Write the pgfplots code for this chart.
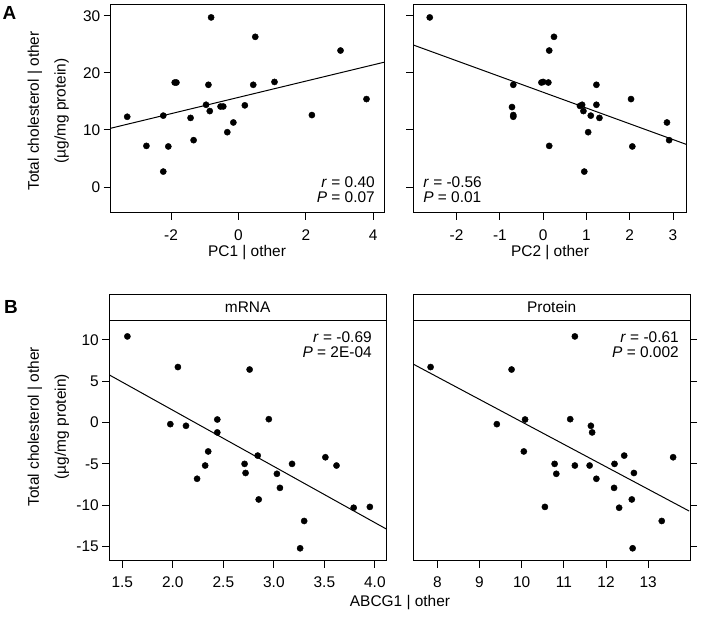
\documentclass[border=0pt]{standalone}
\usepackage{fontspec}
\setmainfont{Liberation Sans}
\usepackage{pgfplots}
\pgfplotsset{compat=1.18}
\newcommand{\fs}{\fontsize{15.5}{18}\selectfont}
\pgfplotsset{
  rstyle/.style={
    scale only axis, clip=false,
    axis line style={line width=0.8bp},
    tick align=outside, major tick length=7bp,
    every tick/.style={line width=0.8bp, black},
    xtick pos=bottom, minor tick num=0,
    tick label style={font=\fs},
  },
  pts/.style={only marks, mark=*, mark size=3.1bp, black, mark options={fill=black}},
  fit/.style={black, line width=1bp, no marks},
}
\tikzset{ann/.style={font=\fs, inner sep=0pt}}
\begin{document}
\begin{tikzpicture}
\path[use as bounding box] (0,0) rectangle (709bp,625bp);
% ---------- A1 ----------
\begin{axis}[rstyle, at={(110.7bp,412.3bp)}, anchor=south west,
  width=273.3bp, height=208.7bp,
  xmin=-3.79, xmax=4.32, ymin=-4.5, ymax=32.05,
  xtick={-2,0,2,4}, xticklabels={-2,0,2,4},
  xticklabel style={inner sep=0pt, yshift=-9.5bp},
  ytick={0,10,20,30}, yticklabels={0,10,20,30}, ytick pos=left]
\addplot[pts] coordinates {
(-3.30,12.3) (-2.73,7.2) (-2.23,12.5) (-2.23,2.7) (-2.08,7.1) (-1.89,18.3)
(-1.84,18.3) (-1.42,12.1) (-1.33,8.2) (-0.96,14.4) (-0.89,17.9) (-0.85,13.3)
(-0.81,29.7) (-0.53,14.1) (-0.45,14.1) (-0.33,9.6) (-0.15,11.3) (0.19,14.3)
(0.44,17.9) (0.50,26.3) (1.07,18.4) (2.18,12.6) (3.03,23.9) (3.80,15.4)};
\addplot[fit] coordinates {(-3.79,10.29) (4.32,21.85)};
\node[ann, anchor=east] at (rel axis cs:0.967,0.147) {\textit{r} = 0.40};
\node[ann, anchor=east] at (rel axis cs:0.967,0.075) {\textit{P} = 0.07};
\end{axis}
% ---------- A2 ----------
\begin{axis}[rstyle, at={(413.3bp,412.3bp)}, anchor=south west,
  width=272.7bp, height=208.7bp,
  xmin=-3.0, xmax=3.30, ymin=-4.5, ymax=32.05,
  xtick={-2,-1,0,1,2,3}, xticklabels={-2,-1,0,1,2,3},
  xticklabel style={inner sep=0pt, yshift=-9.5bp},
  ytick={0,10,20,30}, yticklabels={}, ytick pos=left]
\addplot[pts] coordinates {
(-2.62,29.7) (-0.69,17.9) (-0.72,14.0) (-0.69,12.6) (-0.69,12.3) (-0.04,18.3)
(0.00,18.4) (0.12,18.3) (0.14,23.9) (0.25,26.3) (0.14,7.2) (1.23,17.9)
(0.85,14.2) (0.90,14.4) (0.93,13.3) (1.23,14.4) (1.10,12.5) (1.30,12.1)
(1.04,9.6) (0.95,2.7) (2.03,15.4) (2.06,7.1) (2.86,11.3) (2.91,8.2)};
\addplot[fit] coordinates {(-3.0,24.87) (3.30,7.48)};
\node[ann, anchor=west] at (rel axis cs:0.036,0.147) {\textit{r} = -0.56};
\node[ann, anchor=west] at (rel axis cs:0.036,0.075) {\textit{P} = 0.01};
\end{axis}
% ---------- B1 ----------
\begin{axis}[rstyle, at={(109.3bp,64.3bp)}, anchor=south west,
  width=276.7bp, height=240bp,
  xmin=1.371, xmax=4.11, ymin=-16.7, ymax=12.3,
  xtick={1.5,2,2.5,3,3.5,4}, xticklabels={1.5,2.0,2.5,3.0,3.5,4.0},
  xticklabel style={inner sep=0pt, yshift=-8.5bp},
  ytick={-15,-10,-5,0,5,10}, yticklabels={-15,-10,-5,0,5,10}, ytick pos=left]
\addplot[pts] coordinates {
(1.55,10.4) (2.05,6.7) (1.975,-0.2) (2.13,-0.4) (2.24,-6.8) (2.32,-5.2)
(2.35,-3.5) (2.44,0.36) (2.44,-1.2) (2.71,-5.0) (2.72,-6.1) (2.76,6.4)
(2.84,-4.0) (2.85,-9.3) (2.95,0.4) (3.03,-6.2) (3.06,-7.9) (3.18,-5.0)
(3.30,-11.9) (3.26,-15.2) (3.51,-4.2) (3.62,-5.2) (3.79,-10.3) (3.95,-10.2)};
\addplot[fit] coordinates {(1.371,5.75) (4.11,-12.85)};
\draw[line width=0.8bp] (rel axis cs:0,1) rectangle (rel axis cs:1,1.111);
\node[font=\fs] at (rel axis cs:0.5,1.0555) {mRNA};
\node[ann, anchor=east] at (rel axis cs:0.949,0.933) {\textit{r} = -0.69};
\node[ann, anchor=east] at (rel axis cs:0.949,0.867) {\textit{P} = 2E-04};
\end{axis}
% ---------- B2 ----------
\begin{axis}[rstyle, at={(413.3bp,64.3bp)}, anchor=south west,
  width=276.7bp, height=240bp,
  xmin=7.43, xmax=13.99, ymin=-16.7, ymax=12.3,
  xtick={8,9,10,11,12,13}, xticklabels={8,9,10,11,12,13},
  xticklabel style={inner sep=0pt, yshift=-8.5bp},
  ytick={-15,-10,-5,0,5,10}, yticklabels={}, ytick pos=right]
\addplot[pts] coordinates {
(7.84,6.7) (9.76,6.4) (9.41,-0.2) (10.08,0.36) (10.05,-3.5) (10.55,-10.2)
(10.78,-5.0) (10.82,-6.2) (11.15,0.4) (11.26,10.4) (11.26,-5.2) (11.64,-0.4)
(11.67,-1.2) (11.61,-5.2) (11.77,-6.8) (12.20,-5.0) (12.19,-7.9) (12.43,-4.0)
(12.66,-6.1) (12.31,-10.3) (12.61,-9.3) (12.63,-15.2) (13.32,-11.9) (13.59,-4.2)};
\addplot[fit] coordinates {(7.43,7.05) (13.97,-10.7)};
\draw[line width=0.8bp] (rel axis cs:0,1) rectangle (rel axis cs:1,1.111);
\node[font=\fs] at (rel axis cs:0.5,1.0555) {Protein};
\node[ann, anchor=east] at (rel axis cs:0.960,0.933) {\textit{r} = -0.61};
\node[ann, anchor=east] at (rel axis cs:0.960,0.867) {\textit{P} = 0.002};
\end{axis}
% ---------- labels ----------
\node[font=\fs, rotate=90, inner sep=0pt] at (35bp,514bp) {Total cholesterol | other};
\node[font=\fs, rotate=90, inner sep=0pt] at (61.7bp,514bp) {(µg/mg protein)};
\node[font=\fs, rotate=90, inner sep=0pt] at (35bp,198.3bp) {Total cholesterol | other};
\node[font=\fs, rotate=90, inner sep=0pt] at (62bp,198.3bp) {(µg/mg protein)};
\node[font=\fs, inner sep=0pt] at (247bp,372.3bp) {PC1 | other};
\node[font=\fs, inner sep=0pt] at (550bp,372.3bp) {PC2 | other};
\node[font=\fs, inner sep=0pt] at (400bp,22.3bp) {ABCG1 | other};
\node[font=\fontsize{19}{22}\selectfont\bfseries] at (9.5bp,611.7bp) {A};
\node[font=\fontsize{19}{22}\selectfont\bfseries] at (11bp,318bp) {B};
\end{tikzpicture}
\end{document}
